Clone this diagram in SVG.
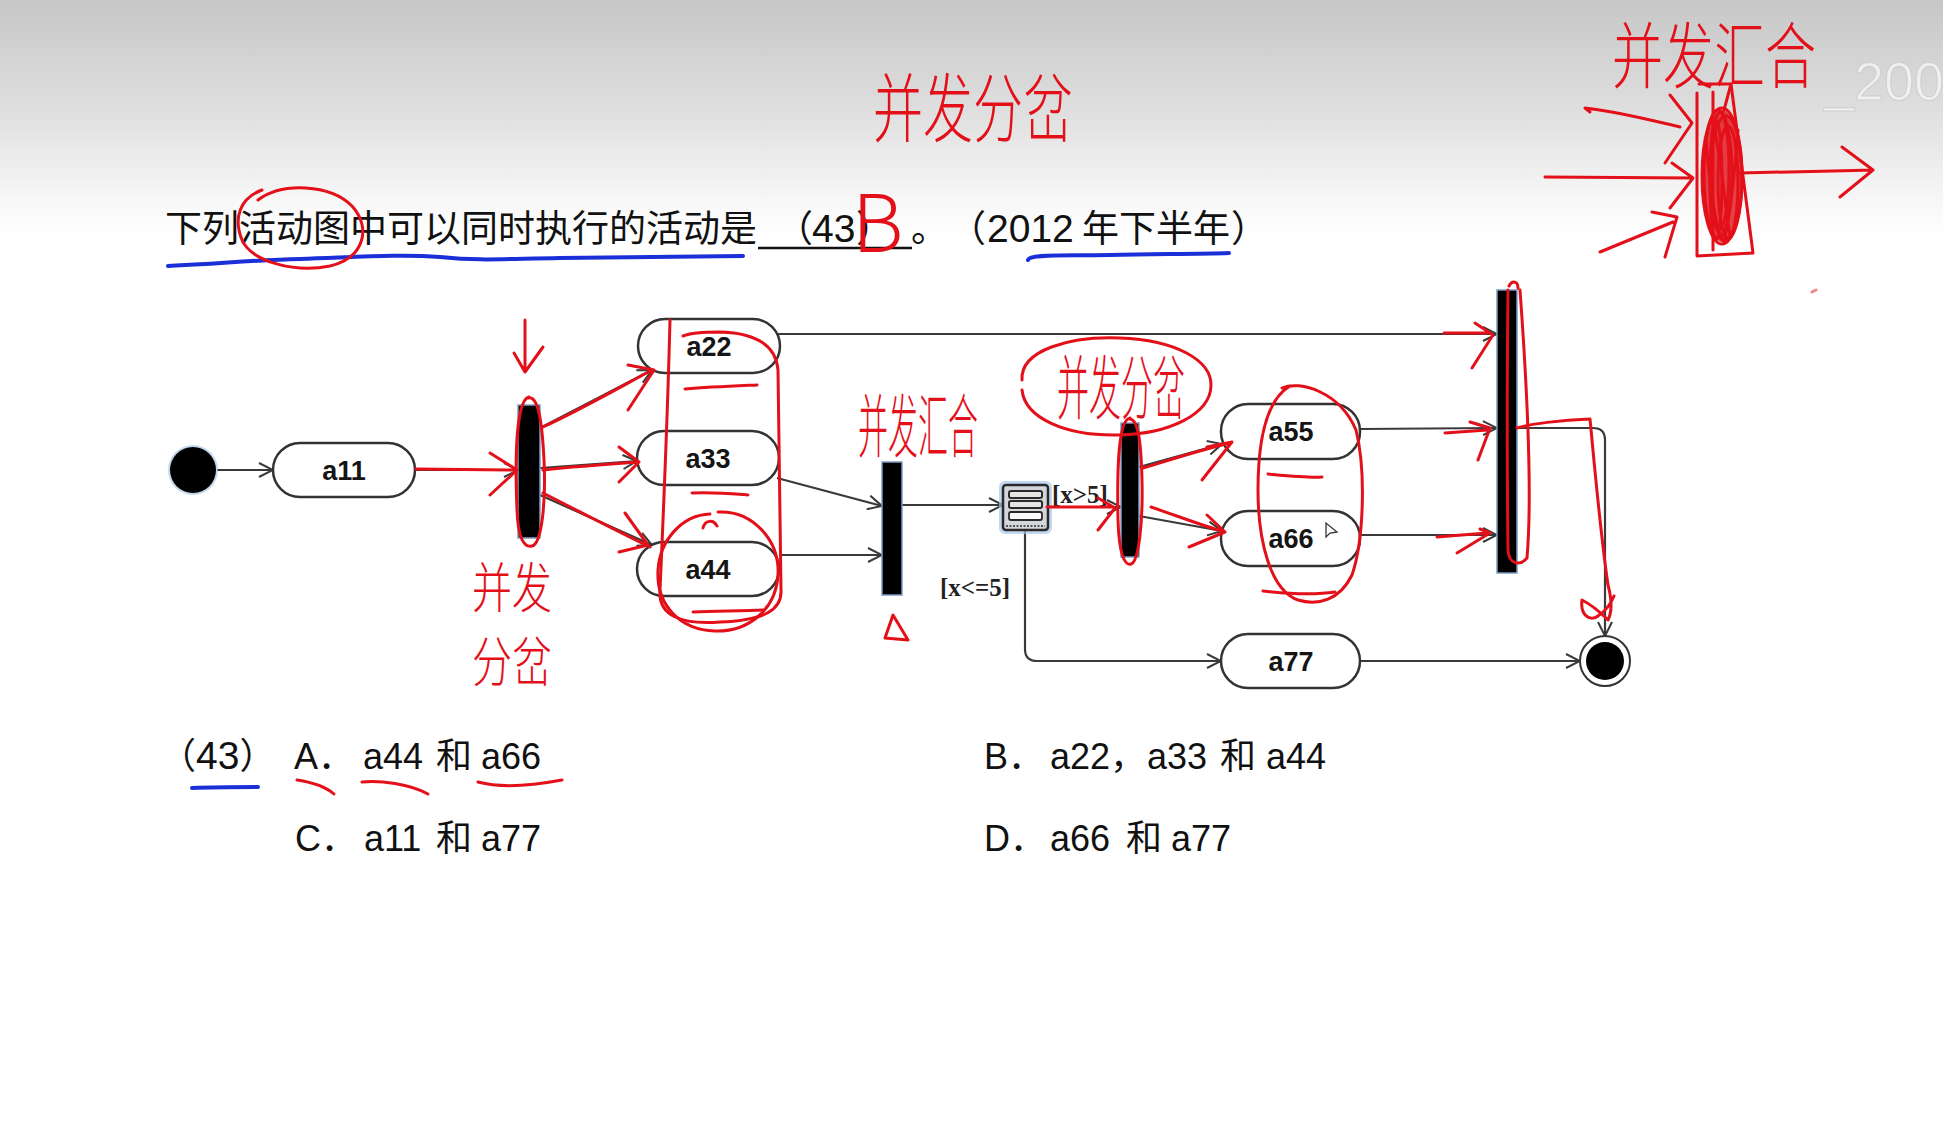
<svg xmlns="http://www.w3.org/2000/svg" width="1943" height="1143" viewBox="0 0 1943 1143">
  <defs>
    <linearGradient id="bg" x1="0" y1="0" x2="0" y2="240" gradientUnits="userSpaceOnUse">
      <stop offset="0" stop-color="#c7c7c7"/>
      <stop offset="0.45" stop-color="#dedede"/>
      <stop offset="0.85" stop-color="#f8f8f8"/>
      <stop offset="1" stop-color="#ffffff"/>
    </linearGradient>
    <marker id="open" viewBox="0 0 16 16" refX="15" refY="8" markerWidth="16" markerHeight="16" markerUnits="userSpaceOnUse" orient="auto">
      <path d="M1,1 L15,8 L1,15" fill="none" stroke="#3a3a3a" stroke-width="2"/>
    </marker>
    <style>
      .q { font-family: "Liberation Sans", "Noto Sans CJK SC", sans-serif; font-size: 37px; fill: #111; }
      .num { font-family: "Liberation Sans", sans-serif; font-size: 39px; fill: #111; }
      .opt { font-family: "Liberation Sans", "Noto Sans CJK SC", sans-serif; font-size: 36px; fill: #111; }
      .lbl { font-family: "Liberation Sans", sans-serif; font-weight: bold; font-size: 27px; text-anchor: middle; fill: #151515; }
      .guard { font-family: "Liberation Serif", serif; font-weight: bold; font-size: 25px; fill: #222; }
      .hand { font-family: "Noto Sans CJK SC", sans-serif; font-weight: 300; fill: #e3101a; }
      .node rect { fill: #fff; stroke: #333; stroke-width: 2.5; }
      .bar { fill: #000; stroke: #7c9cc6; stroke-width: 1.5; }
      .conn path { fill: none; stroke: #3a3a3a; stroke-width: 2.2; }
      .red { fill: none; stroke: #e3101a; stroke-width: 3; stroke-linecap: round; stroke-linejoin: round; }
      .blue { fill: none; stroke: #1b2fd8; stroke-width: 4; stroke-linecap: round; stroke-linejoin: round; }
    </style>
  </defs>

  <!-- slide background -->
  <rect x="0" y="0" width="1943" height="1143" fill="#fff"/>
  <rect x="0" y="0" width="1943" height="240" fill="url(#bg)"/>
  <text x="1824" y="100" font-family="Liberation Sans, sans-serif" font-size="54" fill="#f4f4f4" stroke="#cfcfcf" stroke-width="1.2" opacity="0.85">_200</text>

  <!-- question -->
  <g id="question">
    <text class="q" x="165" y="242">下列活动图中可以同时执行的活动是</text>
    <text class="q" x="776" y="242">（</text>
    <text class="num" x="812" y="242">43</text>
    <text class="q" x="856" y="242">）</text>
    <line x1="758" y1="248" x2="912" y2="248" stroke="#111" stroke-width="2.5"/>
    <text class="q" x="911" y="242">。</text>
    <text class="q" x="949" y="242">（</text>
    <text class="num" x="987" y="242">2012</text>
    <text class="q" x="1082" y="242">年下半年</text>
    <text class="q" x="1231" y="242">）</text>
  </g>

  <!-- answer options -->
  <g id="options">
    <text class="opt" x="160" y="769">（<tspan class="num" font-size="37">43</tspan>）</text>
    <text class="opt" y="769"><tspan x="294">A．</tspan><tspan x="363">a44</tspan><tspan x="436">和</tspan><tspan x="481">a66</tspan></text>
    <text class="opt" y="769"><tspan x="984">B．</tspan><tspan x="1050">a22</tspan><tspan x="1110">，</tspan><tspan x="1147">a33</tspan><tspan x="1220">和</tspan><tspan x="1266">a44</tspan></text>
    <text class="opt" y="851"><tspan x="295">C．</tspan><tspan x="364">a11</tspan><tspan x="436">和</tspan><tspan x="481">a77</tspan></text>
    <text class="opt" y="851"><tspan x="984">D．</tspan><tspan x="1050">a66</tspan><tspan x="1126">和</tspan><tspan x="1171">a77</tspan></text>
  </g>

  <!-- connectors -->
  <g id="connectors" class="conn">
    <path d="M217,470 L273,470" marker-end="url(#open)"/>
    <path d="M415,470 L518,470" marker-end="url(#open)"/>
    <path d="M540,428 L652,370" marker-end="url(#open)"/>
    <path d="M540,468 L637,461" marker-end="url(#open)"/>
    <path d="M540,495 L652,545" marker-end="url(#open)"/>
    <path d="M777,334 L1497,334" marker-end="url(#open)"/>
    <path d="M777,478 L882,506" marker-end="url(#open)"/>
    <path d="M779,555 L882,555" marker-end="url(#open)"/>
    <path d="M902,505 L1003,505" marker-end="url(#open)"/>
    <path d="M1048,507 L1121,507" marker-end="url(#open)"/>
    <path d="M1025,530 L1025,649 Q1025,661 1037,661 L1221,661" marker-end="url(#open)"/>
    <path d="M1139,467 L1222,444" marker-end="url(#open)"/>
    <path d="M1139,516 L1222,531" marker-end="url(#open)"/>
    <path d="M1360,429 L1497,428" marker-end="url(#open)"/>
    <path d="M1360,535 L1497,535" marker-end="url(#open)"/>
    <path d="M1517,428 L1593,428 Q1605,428 1605,440 L1605,636" marker-end="url(#open)"/>
    <path d="M1360,661 L1580,661" marker-end="url(#open)"/>
    <text class="guard" x="1052" y="503">[x&gt;5]</text>
    <text class="guard" x="940" y="596">[x&lt;=5]</text>
  </g>

  <!-- nodes -->
  <g id="initial">
    <circle cx="193" cy="470" r="25" fill="#9dbde0" opacity="0.6"/>
    <circle cx="193" cy="470" r="23" fill="#000"/>
  </g>
  <g id="a11" class="node"><rect x="273" y="443" width="142" height="54" rx="27"/><text class="lbl" x="344" y="480">a11</text></g>
  <g id="fork1"><rect class="bar" x="518" y="405" width="22" height="133"/></g>
  <g id="a22" class="node"><rect x="638" y="319" width="142" height="54" rx="27"/><text class="lbl" x="709" y="356">a22</text></g>
  <g id="a33" class="node"><rect x="637" y="431" width="142" height="54" rx="27"/><text class="lbl" x="708" y="468">a33</text></g>
  <g id="a44" class="node"><rect x="637" y="542" width="142" height="54" rx="27"/><text class="lbl" x="708" y="579">a44</text></g>
  <g id="join1"><rect class="bar" x="882" y="462" width="20" height="133"/></g>
  <g id="decision">
    <rect x="1001" y="483" width="49" height="49" rx="4" fill="none" stroke="#a9c6ea" stroke-width="4" opacity="0.7"/>
    <rect x="1003" y="485" width="45" height="45" rx="3" fill="#d3d6db" stroke="#2a2a2a" stroke-width="2.5"/>
    <rect x="1009" y="491" width="33" height="7" rx="2" fill="#e6e6e6" stroke="#2a2a2a" stroke-width="2"/>
    <rect x="1009" y="501" width="33" height="7" rx="2" fill="#e6e6e6" stroke="#2a2a2a" stroke-width="2"/>
    <rect x="1009" y="512" width="33" height="8" rx="2" fill="#fafafa" stroke="#2a2a2a" stroke-width="1.8"/>
    <line x1="1006" y1="526" x2="1045" y2="526" stroke="#555" stroke-width="2" stroke-dasharray="2 1.5"/>
  </g>
  <g id="fork2"><rect class="bar" x="1121" y="423" width="18" height="134"/></g>
  <g id="a55" class="node"><rect x="1221" y="404" width="139" height="55" rx="27"/><text class="lbl" x="1291" y="441">a55</text></g>
  <g id="a66" class="node"><rect x="1221" y="511" width="139" height="55" rx="27"/><text class="lbl" x="1291" y="548">a66</text>
    <path d="M1326,523 L1326,537 L1330,533 L1337,532 Z" fill="#fff" stroke="#333" stroke-width="1.3"/></g>
  <g id="a77" class="node"><rect x="1221" y="634" width="139" height="54" rx="27"/><text class="lbl" x="1291" y="671">a77</text></g>
  <g id="join2"><rect class="bar" x="1497" y="290" width="20" height="283"/></g>
  <g id="final">
    <circle cx="1605" cy="661" r="25" fill="#fff" stroke="#333" stroke-width="2"/>
    <circle cx="1605" cy="661" r="19" fill="#000"/>
  </g>

  <!-- pen annotations: underlines -->
  <g id="pen-blue">
    <path class="blue" d="M168,266 C220,264 250,260 300,259 C360,257 400,254 440,257 C480,261 500,259 560,258 C640,257 700,257 743,256"/>
    <path class="blue" d="M1028,260 C1030,254 1060,256 1110,255 C1160,254 1200,254 1229,253"/>
    <path class="blue" d="M192,788 C215,787 240,787 258,787"/>
  </g>

  <!-- pen annotations: red marks -->
  <g id="pen-red">
    <!-- question -->
    <path class="red" d="M258,200 C282,182 330,184 352,206 C372,228 364,258 330,266 C295,273 252,262 242,240 C233,218 240,198 262,190"/>
    <text class="hand" font-size="80" x="852" y="252">B</text>
    <!-- options -->
    <path class="red" d="M297,780 C310,782 325,786 334,794"/>
    <path class="red" d="M362,782 C380,780 410,784 428,794"/>
    <path class="red" d="M478,782 C500,788 530,786 562,780"/>

    <!-- fork 1 -->
    <path class="red" d="M525,320 L525,372 M514,353 L525,372 L543,347"/>
    <path class="red" d="M529,397 C516,400 515,460 517,510 C518,538 524,548 532,546 C542,544 546,500 544,460 C542,420 538,395 528,398"/>
    <path class="red" d="M416,469 L516,470 M490,453 L517,470 L490,495"/>
    <path class="red" d="M543,427 C580,410 615,390 652,370 M628,365 L654,370 L628,410"/>
    <path class="red" d="M543,470 C580,466 610,464 639,462 M619,447 L639,462 L619,482"/>
    <path class="red" d="M543,493 C580,512 615,530 650,547 M625,513 L648,545 L619,552"/>
    <text class="hand" font-size="40" transform="translate(472,608) scale(1,1.35)">并发</text>
    <text class="hand" font-size="40" transform="translate(472,682) scale(1,1.35)">分岔</text>

    <!-- a22 / a33 / a44 column -->
    <path class="red" d="M670,320 C668,400 664,500 660,590 C658,615 680,625 720,622 C765,620 782,610 781,590 L778,370 C776,345 755,333 720,332 C700,332 690,333 683,336"/>
    <path class="red" d="M718,512 C752,510 780,540 778,575 C776,610 748,632 715,631 C680,630 656,605 658,570 C660,540 682,515 710,514 M703,528 C705,520 713,519 717,526"/>
    <path class="red" d="M685,389 C710,387 735,386 757,385"/>
    <path class="red" d="M692,493 C715,492 735,494 748,495"/>
    <path class="red" d="M693,612 C720,611 745,611 763,610"/>

    <!-- join 1 -->
    <text class="hand" font-size="30" transform="translate(858,452) scale(1,2.3)">并发汇合</text>
    <path class="red" d="M893,615 L885,638 L908,640 Z"/>

    <!-- decision / fork 2 -->
    <path class="red" d="M1047,507 L1113,507 M1098,498 L1115,508 L1098,530"/>
    <path class="red" d="M1022,380 C1020,350 1070,336 1120,338 C1175,340 1212,360 1211,386 C1210,414 1170,434 1118,435 C1065,436 1025,418 1022,390"/>
    <text class="hand" font-size="32" transform="translate(1057,414) scale(1,2.2)">并发分岔</text>
    <path class="red" d="M1130,418 C1118,420 1117,470 1118,520 C1119,555 1125,566 1131,564 C1139,562 1143,520 1142,480 C1141,440 1138,418 1129,419"/>
    <path class="red" d="M1143,468 C1170,460 1200,450 1230,443 M1207,447 L1232,442 L1202,480"/>
    <path class="red" d="M1151,507 C1175,515 1200,525 1225,532 M1207,515 L1225,532 L1189,547"/>

    <!-- a55 / a66 column -->
    <path class="red" d="M1282,388 C1300,380 1340,392 1356,430 C1366,470 1364,540 1352,575 C1340,600 1318,606 1298,600 C1270,590 1258,540 1258,490 C1258,440 1266,400 1290,386"/>
    <path class="red" d="M1268,474 C1290,476 1310,478 1322,477"/>
    <path class="red" d="M1263,591 C1290,594 1315,595 1335,592"/>

    <!-- join 2 -->
    <path class="red" d="M1444,333 L1490,333 M1475,323 L1493,335 L1472,368"/>
    <path class="red" d="M1445,433 L1487,430 M1470,422 L1490,428 L1478,460"/>
    <path class="red" d="M1437,537 L1487,533 M1480,529 L1490,533 L1457,553"/>
    <path class="red" d="M1509,286 C1512,280 1518,281 1518,288 M1508,290 C1507,380 1507,470 1508,550 C1509,565 1520,566 1527,558 C1532,500 1528,400 1520,290"/>
    <path class="red" d="M1517,428 C1530,424 1560,420 1590,419 C1594,460 1600,530 1608,585 C1612,600 1612,612 1608,620 C1600,612 1590,604 1582,600 C1580,615 1590,622 1598,616 C1604,612 1610,606 1614,596"/>

    <!-- top centre note -->
    <text class="hand" font-size="50" transform="translate(873,136) scale(1,1.5)">并发分岔</text>

    <!-- top right sketch -->
    <text class="hand" font-size="51" transform="translate(1612,82) scale(1,1.4)">并发汇合</text>
    <path class="red" d="M1699,84 L1731,84 L1753,253 L1697,256 L1697,93"/>
    <path class="red" d="M1713,92 L1713,250 M1731,84 L1724,110"/>
    <!-- dense scribble inside the bar -->
    <ellipse cx="1722" cy="176" rx="19" ry="66" fill="#e3101a" opacity="0.8"/>
    <g class="red" stroke-width="2.5">
      <ellipse cx="1722" cy="176" rx="20" ry="68"/>
      <ellipse cx="1718" cy="174" rx="14" ry="64"/>
      <ellipse cx="1726" cy="178" rx="16" ry="62"/>
      <ellipse cx="1720" cy="170" rx="9" ry="58"/>
      <ellipse cx="1728" cy="182" rx="10" ry="56"/>
      <ellipse cx="1716" cy="180" rx="6" ry="60"/>
      <path d="M1706,140 C1710,190 1716,225 1722,240 M1738,130 C1734,180 1730,215 1724,242 M1712,118 C1722,160 1724,200 1730,236"/>
    </g>
    <path class="red" d="M1590,112 L1585,108 C1620,112 1650,120 1680,127 M1670,95 L1692,123 L1665,163"/>
    <path class="red" d="M1545,177 L1693,178 M1672,163 L1693,178 L1670,208"/>
    <path class="red" d="M1600,252 L1673,222 M1652,212 L1677,217 L1665,257"/>
    <path class="red" d="M1740,173 C1790,172 1830,171 1873,170 M1842,147 L1873,170 L1840,197"/>
    <path class="red" stroke-width="1.5" opacity="0.5" d="M1812,292 L1816,290"/>
  </g>
</svg>
